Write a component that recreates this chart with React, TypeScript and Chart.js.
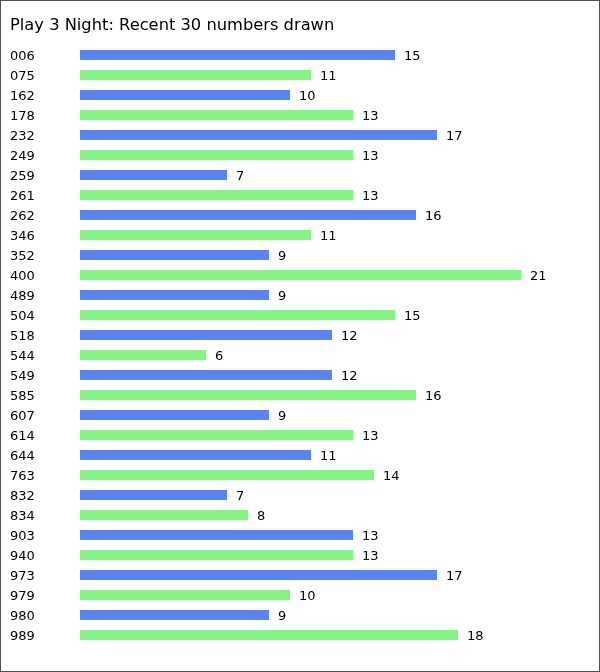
import React, { useEffect, useRef } from "react";
import { Chart, registerables } from "chart.js";

Chart.register(...registerables);

const titleText = "Play 3 Night: Recent 30 numbers drawn";
const numbers = ["006","075","162","178","232","249","259","261","262","346","352","400","489","504","518","544","549","585","607","614","644","763","832","834","903","940","973","979","980","989"];
const counts = [15,11,10,13,17,13,7,13,16,11,9,21,9,15,12,6,12,16,9,13,11,14,7,8,13,13,17,10,9,18];
const blue = "#5a83f5";
const green = "#84f584";
const FONT = "'DejaVu Sans', Verdana, sans-serif";

export default function App() {
  const ref = useRef<HTMLCanvasElement | null>(null);
  useEffect(() => {
    if (!ref.current) return;
    const valueLabels = {
      id: "valueLabels",
      afterDatasetsDraw(chart: any) {
        const ctx = chart.ctx;
        const meta = chart.getDatasetMeta(0);
        ctx.save();
        ctx.font = `13px ${FONT}`;
        ctx.fillStyle = "#000";
        ctx.textAlign = "left";
        ctx.textBaseline = "middle";
        meta.data.forEach((bar: any, i: number) => {
          ctx.fillText(String(counts[i]), bar.x + 9, bar.y + 2);
        });
        ctx.restore();
      },
    };
    const frame = {
      id: "frame",
      afterDraw(chart: any) {
        const ctx = chart.ctx;
        ctx.save();
        ctx.strokeStyle = "#505050";
        ctx.lineWidth = 1;
        ctx.strokeRect(0.5, 0.5, chart.width - 1, chart.height - 1);
        ctx.restore();
      },
    };
    const chart = new Chart(ref.current, {
      type: "bar",
      data: {
        labels: numbers,
        datasets: [
          {
            data: counts,
            backgroundColor: counts.map((_, i) => (i % 2 === 0 ? blue : green)),
            borderWidth: 0,
            categoryPercentage: 1,
            barPercentage: 0.5,
          },
        ],
      },
      options: {
        indexAxis: "y",
        responsive: false,
        animation: false,
        layout: { padding: { left: 10, right: 16, top: 0, bottom: 27 } },
        plugins: {
          legend: { display: false },
          tooltip: { enabled: false },
          title: {
            display: true,
            text: titleText,
            align: "start",
            color: "#000",
            font: { family: FONT, size: 16.3, weight: "normal", lineHeight: 1.2 },
            padding: { top: 16, bottom: 9.4 },
          },
        },
        scales: {
          x: { display: false, min: 0, max: 24 },
          y: {
            grid: { display: false, drawTicks: false },
            border: { display: false },
            ticks: {
              crossAlign: "far",
              color: "#000",
              font: { family: FONT, size: 13 },
              padding: 0,
              labelOffset: 2,
            },
            afterFit(scale: any) {
              scale.width = 70;
            },
          },
        },
      },
      plugins: [valueLabels, frame],
    });
    return () => chart.destroy();
  }, []);
  return (
    <div style={{ position: "absolute", left: 0, top: 0, width: 600, height: 672, background: "#fff" }}>
      <canvas ref={ref} width={600} height={672} />
    </div>
  );
}
